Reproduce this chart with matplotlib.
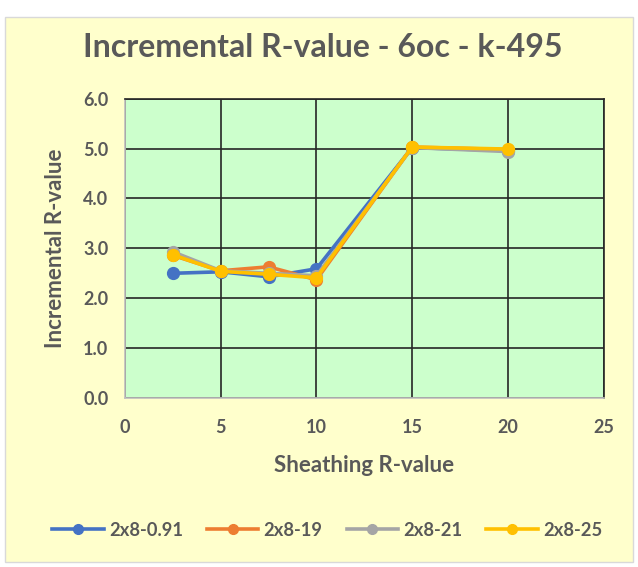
import matplotlib
matplotlib.use("Agg")
import matplotlib.pyplot as plt
from matplotlib.patches import Rectangle

x_vals = [2.5, 5, 7.5, 10, 15, 20]
s_091 = [2.50, 2.53, 2.43, 2.59, 5.02, 4.96]
s_19 = [2.86, 2.55, 2.63, 2.37, 5.03, 4.98]
s_21 = [2.93, 2.55, 2.50, 2.45, 5.02, 4.94]
s_25 = [2.87, 2.54, 2.48, 2.41, 5.03, 4.99]
labels = ["2x8-0.91", "2x8-19", "2x8-21", "2x8-25"]
colors = ["#4472C4", "#ED7D31", "#A5A5A5", "#FFC000"]
xticks = [0, 5, 10, 15, 20, 25]
yticks = [0, 1, 2, 3, 4, 5, 6]

plt.rcParams['font.family'] = ['Lato', 'DejaVu Sans']
fig = plt.figure(figsize=(6.38, 5.67), dpi=100)
fig.patch.set_facecolor("white")
bg = Rectangle((0.008, 0.008), 0.984, 0.962, transform=fig.transFigure,
               facecolor="#FFFFCC", edgecolor="#D9D9D9", lw=1, zorder=-10)
fig.patches.append(bg)

ax = fig.add_axes([0.196, 0.298, 0.750, 0.528])
ax.set_facecolor("#CCFFCC")
for lab, ys, c in zip(labels, [s_091, s_19, s_21, s_25], colors):
    ax.plot(x_vals, ys, color=c, lw=2.6, marker="o", markersize=8.5, label=lab)
ax.set_xlim(0, 25)
ax.set_ylim(0, 6)
ax.set_xticks(xticks)
ax.set_yticks(yticks)
ax.set_yticklabels([f"{v:.1f}" for v in yticks])
ax.grid(True, color="#262626", lw=1.2)
ax.set_axisbelow(True)
for k, s in ax.spines.items():
    if k in ("left", "bottom"):
        s.set_color("#BFBFBF")
        s.set_linewidth(1.2)
    else:
        s.set_color("#262626")
        s.set_linewidth(1.2)
ax.tick_params(length=0, labelsize=13, colors="#595959")
ax.tick_params(axis="x", pad=15)
ax.tick_params(axis="y", pad=12)
for t in ax.get_xticklabels() + ax.get_yticklabels():
    t.set_fontweight("bold")
ax.set_xlabel("Sheathing R-value", fontsize=16, fontweight="bold", color="#595959", labelpad=14)
ax.set_ylabel("Incremental R-value", fontsize=16, fontweight="bold", color="#595959", labelpad=12)
fig.text(0.506, 0.917, "Incremental R-value - 6oc - k-495", ha="center", va="center",
         fontsize=23, fontweight="bold", color="#595959")
leg = fig.legend(loc="center", bbox_to_anchor=(0.513, 0.065), ncol=4, frameon=False,
                 fontsize=13.2, handlelength=2.8, columnspacing=1.3, handletextpad=0.3)
for t in leg.get_texts():
    t.set_color("#595959")
    t.set_fontweight("bold")
for h in leg.legend_handles:
    h.set_markersize(7)
fig.savefig("out.png", dpi=100, facecolor=fig.get_facecolor())
